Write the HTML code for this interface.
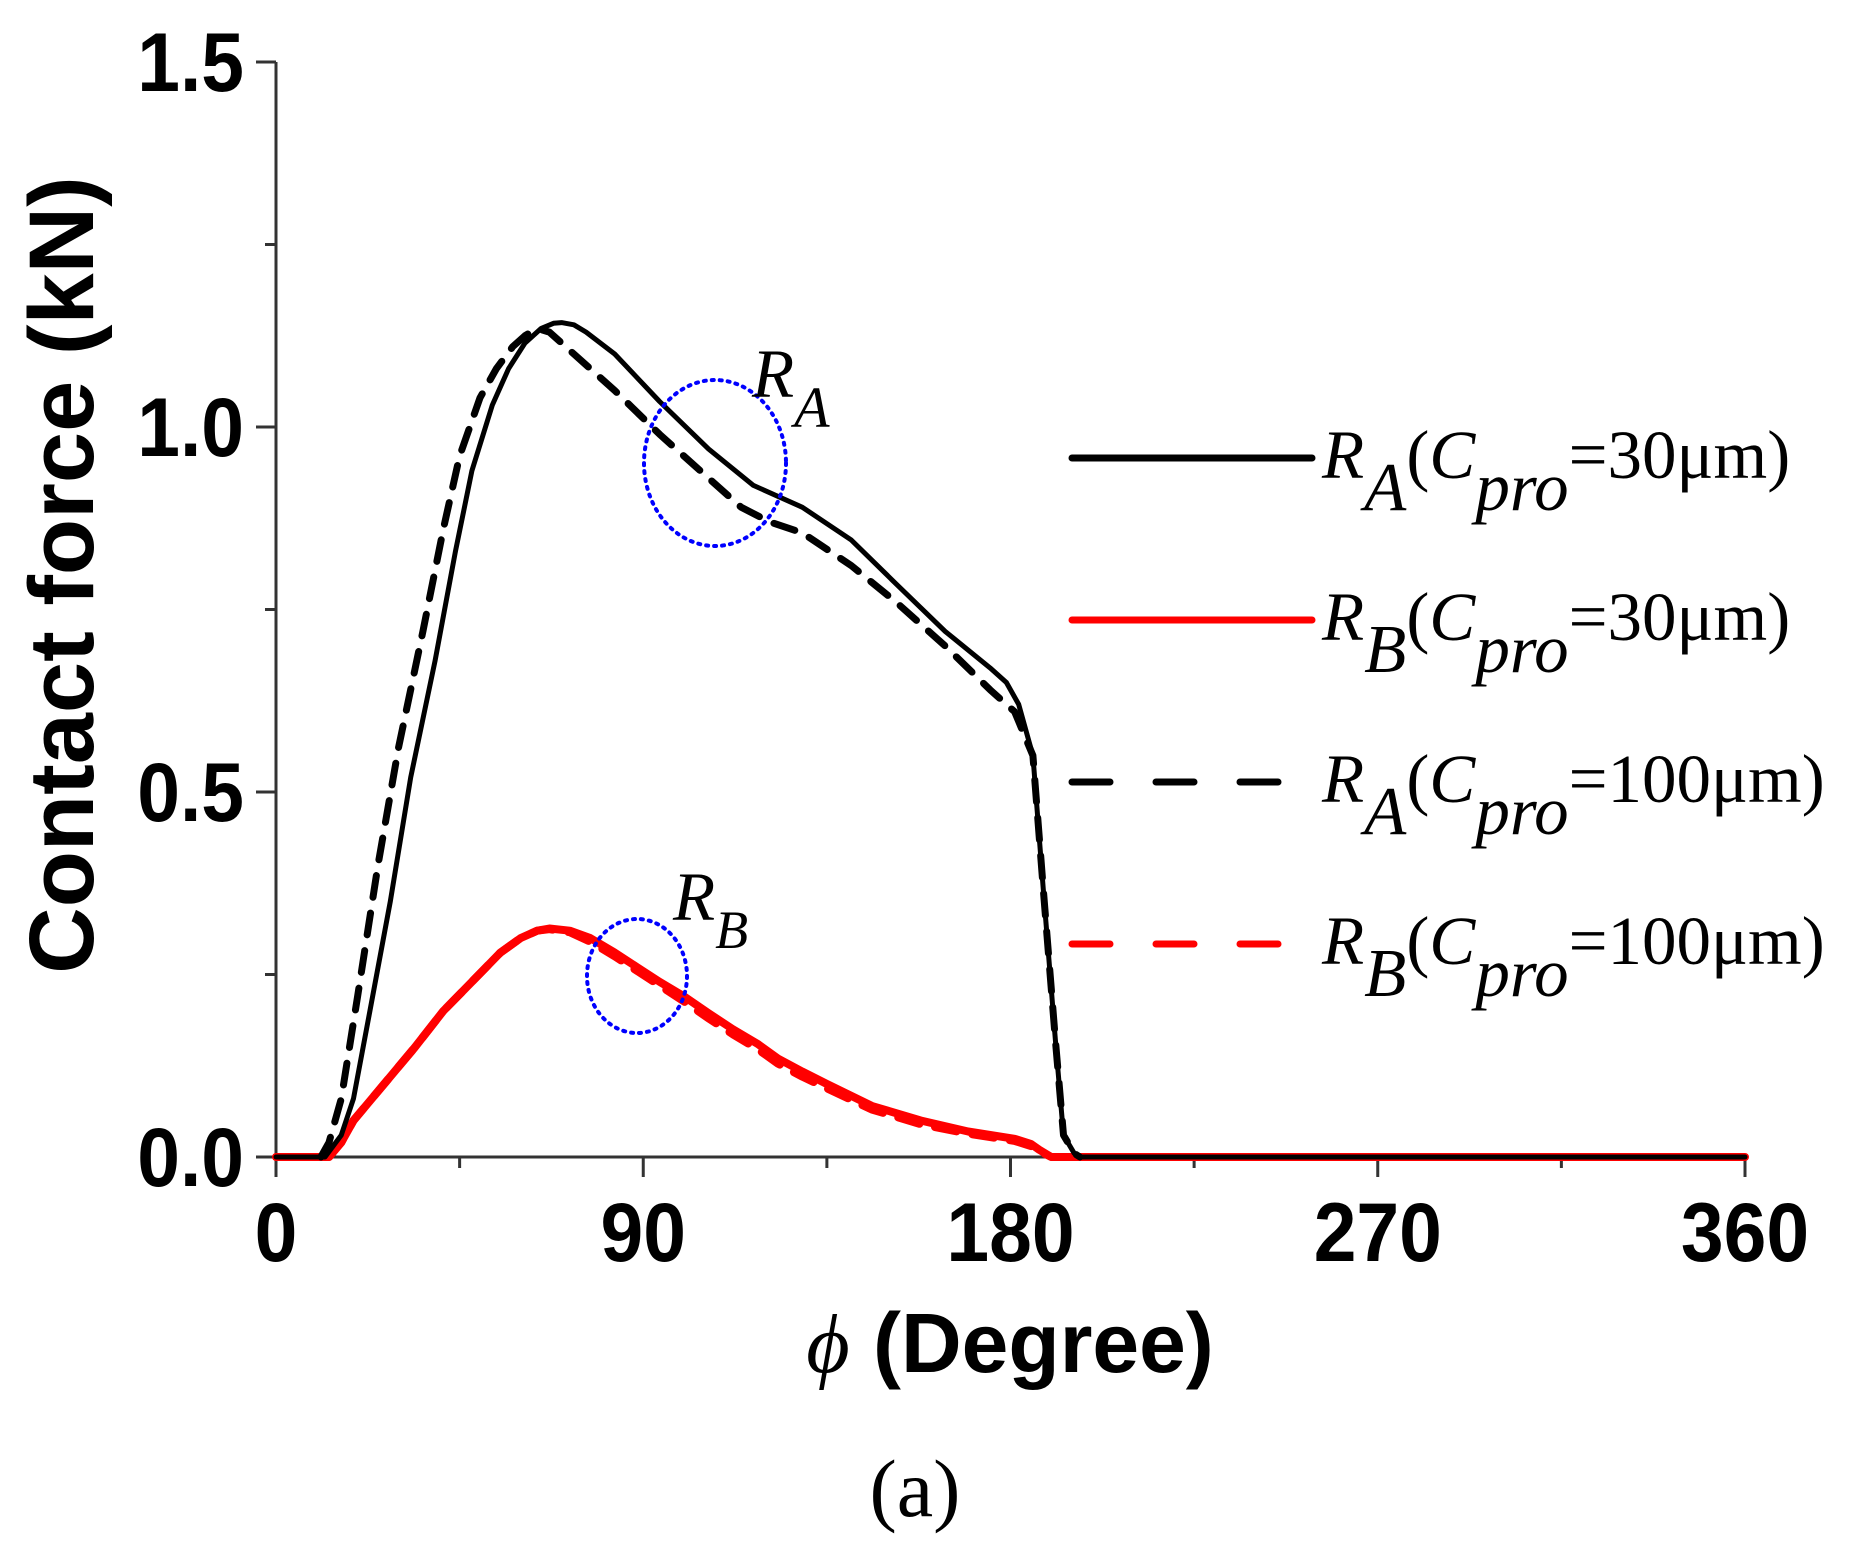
<!DOCTYPE html>
<html><head><meta charset="utf-8"><style>
html,body{margin:0;padding:0;background:#fff;}
svg{display:block;}
.tick{font-family:"Liberation Sans",Arial,sans-serif;font-weight:bold;font-size:64px;fill:#000;}
.leg{font-family:"Liberation Serif","Times New Roman",serif;font-size:69px;fill:#000;}
</style></head><body>
<svg id="chart" width="1851" height="1564" viewBox="0 0 1851 1564">
<g id="axes"></g>
<g id="series"></g>
<ellipse cx="715" cy="463" rx="71" ry="83" fill="none" stroke="#0000ff" stroke-width="4" stroke-dasharray="2 6" stroke-linecap="round"/>
<ellipse cx="637" cy="976" rx="50" ry="57" fill="none" stroke="#0000ff" stroke-width="4" stroke-dasharray="2 6" stroke-linecap="round"/>
<text class="leg" x="752" y="397" font-style="italic" font-size="72">R<tspan font-size="58" dy="30">A</tspan></text>
<text class="leg" x="673" y="920" font-style="italic" font-size="66">R<tspan font-size="54" dy="28">B</tspan></text>
<g id="legend"></g>
<text x="62" y="575" transform="rotate(-90 62 575)" text-anchor="middle" dominant-baseline="central" font-family="'Liberation Sans',Arial,sans-serif" font-weight="bold" font-size="92">Contact force (kN)</text>
<text x="1010" y="1372" text-anchor="middle" font-family="'Liberation Sans',Arial,sans-serif" font-weight="bold" font-size="84"><tspan font-family="'Liberation Serif',serif" font-style="italic" font-weight="normal">ϕ</tspan> (Degree)</text>
<text x="915" y="1516" text-anchor="middle" font-family="'Liberation Serif','Times New Roman',serif" font-size="82">(a)</text>
</svg>
<script>
const xTicks=[0,90,180,270,360];
const xMinor=[45,135,225,315];
const yTicks=[0.0,0.5,1.0,1.5];
const yMinor=[0.25,0.75,1.25];
const raX30=[0,12,16,19,23,28,33,39,44,48,53,57,61,65,68,70,73,76,83,94,106,117,129,141,152,164,175,179,182,185.5,188,191,193,195.6,197,360];
const raY30=[0,0,0.03,0.08,0.2,0.35,0.52,0.68,0.83,0.94,1.03,1.08,1.115,1.135,1.142,1.143,1.14,1.13,1.10,1.035,0.97,0.92,0.89,0.845,0.785,0.72,0.67,0.65,0.62,0.55,0.37,0.16,0.03,0.005,0,0];
const raX100=[11,13,16,20,25,30,36,41,45,50,54,58,61,64,67,71,77,83,94,106,114,121,129,141,152,164,175,181,185.5,188,191,193,195.6,197];
const raY100=[0,0.02,0.08,0.22,0.4,0.56,0.72,0.86,0.96,1.04,1.08,1.11,1.125,1.135,1.13,1.11,1.08,1.05,0.99,0.93,0.89,0.87,0.855,0.81,0.76,0.70,0.64,0.61,0.55,0.37,0.16,0.03,0.005,0];
const rbX30=[0,13,16,19,25,34,41,48,55,60,64,67,72,77,83,88.5,94,100,106,112,118,123,129,135,146,158,169.6,181,185,187,190,360];
const rbY30=[0,0,0.02,0.05,0.09,0.15,0.2,0.24,0.28,0.30,0.31,0.313,0.31,0.30,0.28,0.26,0.24,0.22,0.197,0.175,0.155,0.135,0.117,0.10,0.07,0.05,0.035,0.025,0.018,0.01,0,0];
const rbX100=[13,16,19,25,34,41,48,55,60,64,67,72,77,83,88.5,94,100,106,112,118,123,129,135,146,158,169.6,181,185,187,190];
const rbY100=[0,0.02,0.05,0.09,0.15,0.2,0.24,0.28,0.30,0.31,0.312,0.308,0.295,0.275,0.255,0.235,0.213,0.19,0.168,0.148,0.128,0.11,0.094,0.065,0.045,0.032,0.022,0.015,0.008,0];
const legendLabels=[["A","30"],["B","30"],["A","100"],["B","100"]];

const NS="http://www.w3.org/2000/svg";
const X0=276,X1=1745,Y0=1157,Y1=62;
function sx(v){return X0+(v-0)/360*(X1-X0);}
function sy(v){return Y0-(v/1.5)*(Y0-Y1);}
function mk(tag,attrs,parent){const e=document.createElementNS(NS,tag);for(const k in attrs)e.setAttribute(k,attrs[k]);parent.appendChild(e);return e;}
const axes=document.getElementById('axes');
let e=mk('line',{x1:X0,y1:Y0,x2:X1,y2:Y0,stroke:'#333','stroke-width':3},axes);


e=mk('line',{x1:X0,y1:Y0,x2:X0,y2:Y1,stroke:'#333','stroke-width':3},axes);


xTicks.forEach(t=>{
 e=mk('line',{x1:sx(t),y1:Y0,x2:sx(t),y2:Y0+20,stroke:'#333','stroke-width':3},axes);
 
 
 e=mk('text',{x:sx(t),y:Y0+104,'text-anchor':'middle',class:'tick',transform:'translate('+sx(t)+','+(Y0+104)+') scale(1.2,1.3) translate('+(-sx(t))+','+(-(Y0+104))+')'},axes);e.textContent=String(t);
 
 
});
xMinor.forEach(t=>{
 e=mk('line',{x1:sx(t),y1:Y0,x2:sx(t),y2:Y0+11,stroke:'#333','stroke-width':3},axes);
 
 
});
yTicks.forEach(t=>{
 e=mk('line',{x1:X0-20,y1:sy(t),x2:X0,y2:sy(t),stroke:'#333','stroke-width':3},axes);
 
 
 const tx=X0-32,ty=sy(t)+29;
 e=mk('text',{x:tx,y:ty,'text-anchor':'end',class:'tick',transform:'translate('+tx+','+ty+') scale(1.2,1.3) translate('+(-tx)+','+(-ty)+')'},axes);e.textContent=t.toFixed(1);
 
 
});
yMinor.forEach(t=>{
 e=mk('line',{x1:X0-11,y1:sy(t),x2:X0,y2:sy(t),stroke:'#333','stroke-width':3},axes);
 
 
});
const ser=document.getElementById('series');
function path(xs,ys){return xs.map((x,i)=>(i?'L':'M')+sx(x).toFixed(1)+','+sy(ys[i]).toFixed(1)).join(' ');}
const defs=[[rbX100,rbY100,'#ff0000','22 16','rb-100um-line',8],[rbX30,rbY30,'#ff0000','','rb-30um-line',8],[raX100,raY100,'#000','22 16','ra-100um-line',7],[raX30,raY30,'#000','','ra-30um-line',5]];
defs.forEach(d=>{
 const a={d:path(d[0],d[1]),fill:'none',stroke:d[2],'stroke-width':d[5],'stroke-linejoin':'round','stroke-linecap':'round'};
 if(d[3])a['stroke-dasharray']=d[3];
 e=mk('path',a,ser);
 
 
});
const leg=document.getElementById('legend');
const rowsY=[478,640,802,964];
const cols=['#000','#ff0000','#000','#ff0000'];
legendLabels.forEach((l,i)=>{
 const y=rowsY[i]-20;
 const a={x1:1072,y1:y,x2:i<2?1312:1282,y2:y,stroke:cols[i],'stroke-width':7,'stroke-linecap':'round'};
 if(i>=2)a['stroke-dasharray']='38 46';
 e=mk('line',a,leg);
 
 
 e=mk('text',{x:1322,y:rowsY[i],class:'leg'},leg);
 e.innerHTML='<tspan font-style="italic">R</tspan><tspan font-style="italic" dy="32">'+l[0]+'</tspan><tspan dy="-32">(</tspan><tspan font-style="italic">C</tspan><tspan font-style="italic" dy="32">pro</tspan><tspan dy="-32">='+l[1]+'μm)</tspan>';
 
 
});
</script>
</body></html>
